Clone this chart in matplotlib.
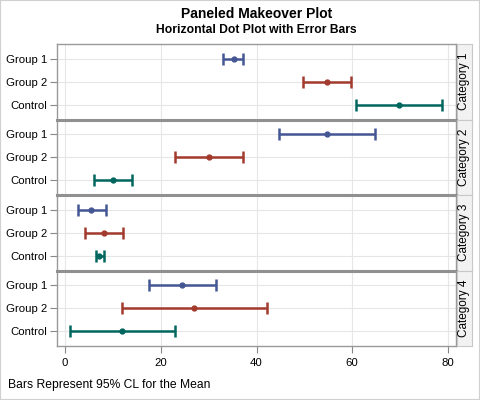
import numpy as np
import matplotlib.pyplot as plt
from matplotlib.patches import Rectangle

plt.rcParams['font.family'] = ['Liberation Sans', 'DejaVu Sans']

categories = ['Category 1', 'Category 2', 'Category 3', 'Category 4']
groups = ['Group 1', 'Group 2', 'Control']
colors = ['#445694', '#A23A2E', '#01665E']

# means and 95% CL per category, in order Group 1, Group 2, Control
means = [
    [35.2, 54.8, 69.8],
    [54.8, 30.0, 10.0],
    [5.4, 8.1, 7.1],
    [24.4, 26.9, 11.9],
]
lower = [
    [32.9, 49.8, 60.8],
    [44.8, 22.9, 6.0],
    [2.7, 4.2, 6.5],
    [17.5, 11.9, 1.0],
]
upper = [
    [37.1, 59.8, 78.8],
    [64.8, 37.1, 14.0],
    [8.5, 12.1, 8.1],
    [31.5, 42.1, 22.9],
]

W, H = 480, 400
fig = plt.figure(figsize=(W / 100, H / 100), dpi=100)
fig.patches.append(Rectangle((0, 0), 1, 1, transform=fig.transFigure,
                             fill=False, edgecolor='#d0d0d0', lw=1.5))

left, right = 57, 456
top, bottom = 44, 346
ph = (bottom - top) / len(categories)

axes = []
for k, cat in enumerate(categories):
    y0 = top + k * ph
    ax = fig.add_axes([left / W, 1 - (y0 + ph) / H, (right - left) / W, ph / H])
    axes.append(ax)
    ypos = np.arange(len(groups))
    for j in range(len(groups)):
        m = means[k][j]
        ax.errorbar([m], [ypos[j]],
                    xerr=[[m - lower[k][j]], [upper[k][j] - m]],
                    fmt='o', color=colors[j], ms=3.5, lw=1.8,
                    capsize=4, capthick=1.8, zorder=3)
    ax.set_ylim(2.65, -0.65)
    ax.set_xlim(-1.7, 81.7)
    ax.set_yticks(ypos)
    ax.set_yticklabels(groups)
    ax.set_xticks([0, 20, 40, 60, 80])
    ax.grid(True, color='#e6e6e6', lw=0.8)
    ax.set_axisbelow(True)
    ax.tick_params(axis='y', labelsize=8.2, length=5, color='#888888', pad=2)
    ax.tick_params(axis='x', labelsize=8.2, length=5, color='#888888')
    for s in ax.spines.values():
        s.set_color('#999999')
        s.set_linewidth(1.0)
    if k > 0:
        ax.spines['top'].set_linewidth(2.2)
        ax.spines['top'].set_color('#909090')
    if k < len(categories) - 1:
        ax.tick_params(axis='x', bottom=False, labelbottom=False)

    # strip on the right
    sax = fig.add_axes([(right + 1) / W, 1 - (y0 + ph) / H, 15 / W, ph / H])
    sax.set_facecolor('#f2f2f2')
    sax.set_xticks([])
    sax.set_yticks([])
    for s in sax.spines.values():
        s.set_color('#c8c8c8')
        s.set_linewidth(0.8)
    sax.text(0.5, 0.5, cat, rotation=90, ha='center', va='center',
             fontsize=8.5, transform=sax.transAxes)

cx = (left + right) / 2 / W
fig.text(cx, 1 - 14 / H, 'Paneled Makeover Plot', ha='center', va='center',
         fontsize=10, fontweight='bold')
fig.text(cx, 1 - 30 / H, 'Horizontal Dot Plot with Error Bars', ha='center',
         va='center', fontsize=8.7, fontweight='bold')
fig.text(8 / W, 1 - 385 / H, 'Bars Represent 95% CL for the Mean',
         ha='left', va='center', fontsize=8.7)

fig.savefig('out.png', dpi=100)
